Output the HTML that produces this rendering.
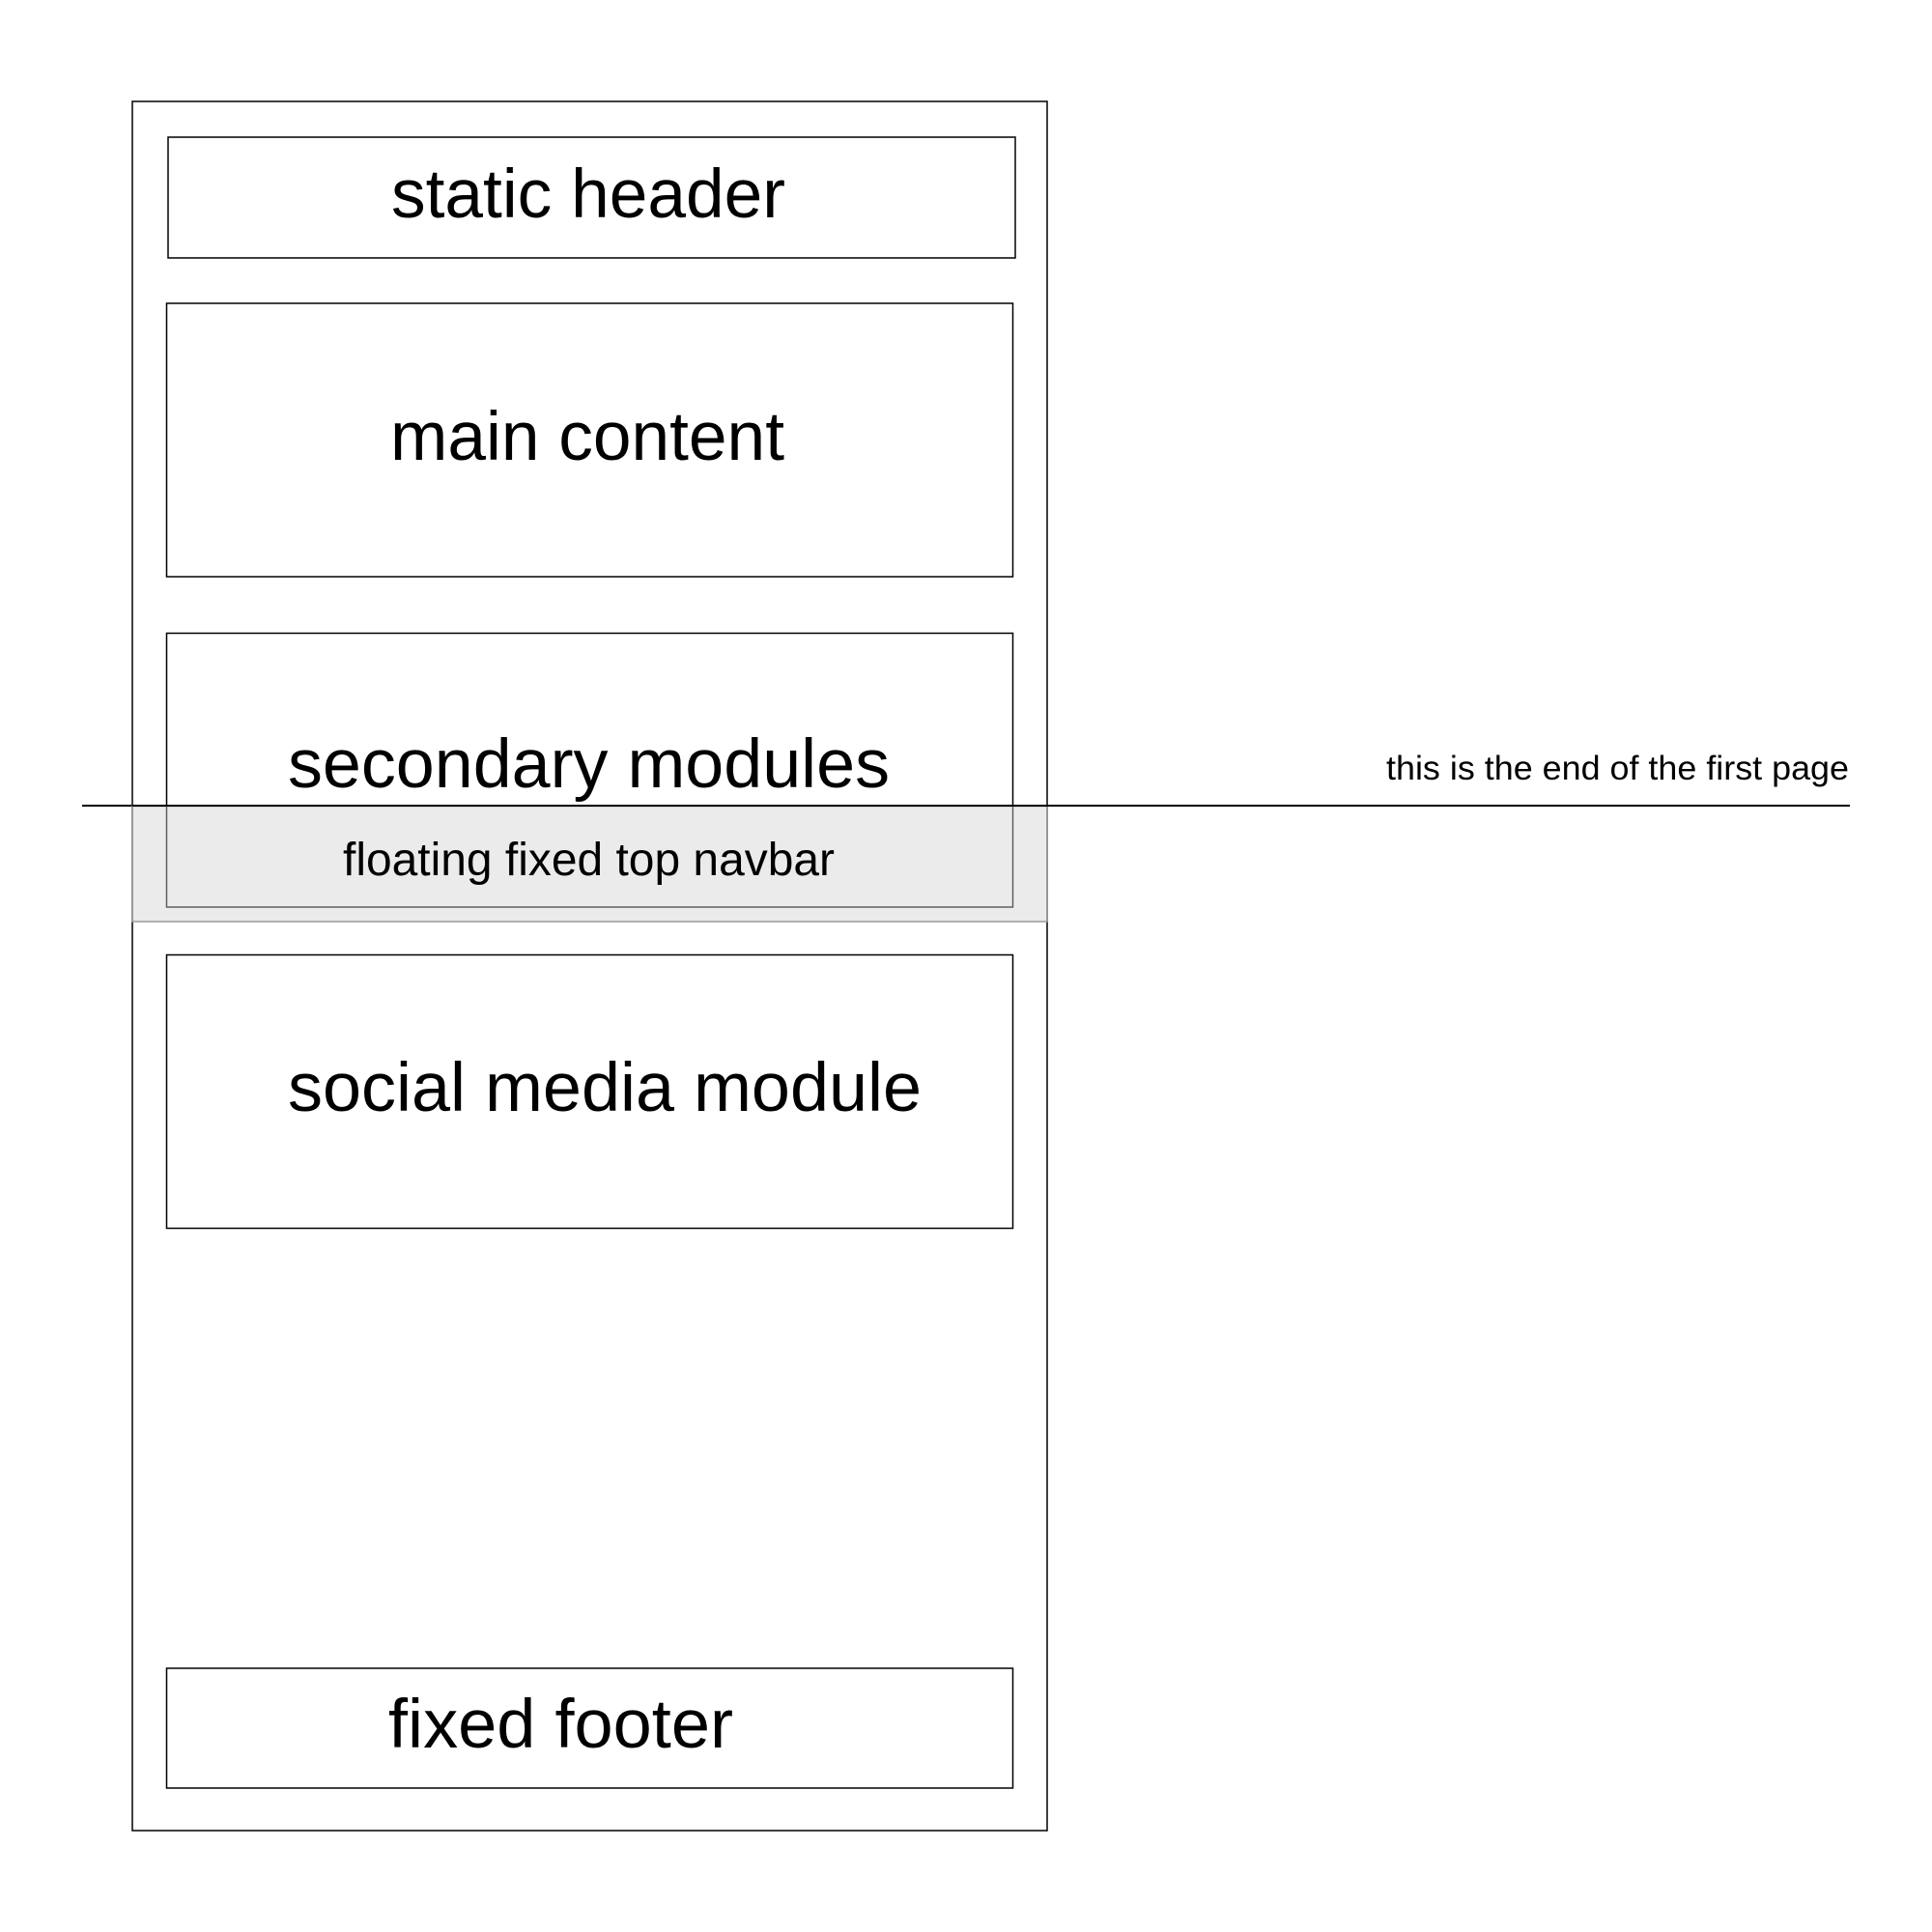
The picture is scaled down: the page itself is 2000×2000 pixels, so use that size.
<!DOCTYPE html>
<html><head><style>html,body{margin:0;padding:0;background:#fff;}svg{display:block}</style></head>
<body>
<svg width="2000" height="2000" viewBox="0 0 2000 2000" xmlns="http://www.w3.org/2000/svg" font-family="Liberation Sans, Arial, sans-serif">
<rect width="2000" height="2000" fill="#fff"/>
<g fill="none" stroke="#000" stroke-width="1.5">
<rect x="137" y="105" width="947" height="1790"/>
<rect x="174" y="142" width="877" height="125"/>
<rect x="172.5" y="314" width="876" height="283"/>
<rect x="172.5" y="655.5" width="876" height="283.5"/>
<rect x="172.5" y="988.5" width="876" height="283"/>
<rect x="172.5" y="1727" width="876" height="124"/>
</g>
<line x1="85" y1="834" x2="1915" y2="834" stroke="#000" stroke-width="2"/>
<rect x="137" y="834.5" width="947" height="119.5" fill="rgba(210,210,210,0.45)" stroke="#999" stroke-width="1.5"/>
<line x1="137" y1="834" x2="1915" y2="834" stroke="#000" stroke-width="2"/>
<g fill="#000" font-size="71">
<text x="405" y="225" textLength="408" lengthAdjust="spacingAndGlyphs">static header</text>
<text x="404" y="476" textLength="408" lengthAdjust="spacingAndGlyphs">main content</text>
<text x="298" y="815" textLength="623" lengthAdjust="spacingAndGlyphs">secondary modules</text>
<text x="298" y="1150" textLength="656" lengthAdjust="spacingAndGlyphs">social media module</text>
<text x="402" y="1809" textLength="357" lengthAdjust="spacingAndGlyphs">fixed footer</text>
</g>
<text x="355" y="906" font-size="48" textLength="509" lengthAdjust="spacingAndGlyphs">floating fixed top navbar</text>
<text x="1435" y="807" font-size="35" textLength="479" lengthAdjust="spacingAndGlyphs">this is the end of the first page</text>
</svg>
</body></html>
